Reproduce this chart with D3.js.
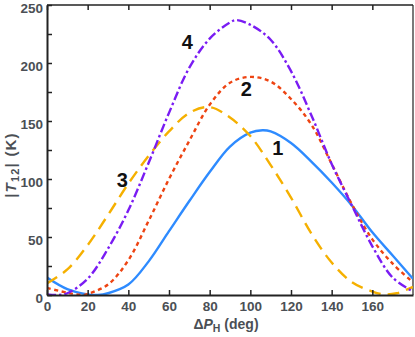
<!DOCTYPE html>
<html>
<head>
<meta charset="utf-8">
<script src="https://cdn.jsdelivr.net/npm/d3@7"></script>
<style>
  html, body { margin: 0; padding: 0; background: #fff; }
  svg { display: block; }
  text { font-family: "Liberation Sans", Arial, sans-serif; }
</style>
</head>
<body>
<svg id="chart" width="415" height="337"></svg>
<script>
// ---- data ----
const xTicks = [0, 20, 40, 60, 80, 100, 120, 140, 160];
const yTicks = [0, 50, 100, 150, 200, 250];
const yMinorTicks = [25, 75, 125, 175, 225];

const curve1X = [0, 10, 20, 25, 30, 40, 50, 60, 70, 80, 90, 100, 106, 110, 120, 130, 140, 150, 160, 170, 180];
const curve1Y = [15, 5, 0.5, 0, 1.5, 9, 29, 55, 81, 106, 128, 140, 142, 141, 131, 115, 97, 77, 54, 34, 14];

const curve2X = [0, 10, 17, 20, 30, 40, 50, 60, 70, 80, 90, 100, 110, 120, 130, 140, 150, 160, 170, 180];
const curve2Y = [6, 2, 0, 1, 9, 30, 64, 100, 133, 164, 183, 188, 184, 169, 147, 113, 78, 48, 27, 11];

const curve3X = [0, 10, 20, 30, 40, 50, 60, 70, 80, 90, 100, 110, 120, 130, 140, 150, 160, 166, 172, 180];
const curve3Y = [10, 22, 43, 69, 96, 120, 141, 157, 162, 153, 137, 112, 84, 53, 28, 11, 3, 0.5, 1.5, 7];

const curve4X = [0, 5, 10, 20, 30, 40, 50, 60, 70, 80, 90, 93, 100, 110, 120, 130, 140, 150, 160, 170, 180];
const curve4Y = [0.5, 0, 1.5, 14, 40, 73, 114, 157, 196, 221, 235, 237, 233, 220, 193, 155, 113, 77, 42, 15, 3];

const seriesNames = ["1", "2", "3", "4"];
const labelPos = [[113.5, 127], [98, 178], [37, 99], [69, 218]]; // in data units

// ---- layout ----
const svg = d3.select("#chart");
const m = { left: 47, right: 413, top: 5, bottom: 295 };
const x = d3.scaleLinear().domain([0, 180]).range([m.left, m.right]);
const y = d3.scaleLinear().domain([0, 250]).range([m.bottom, m.top]);

const axisColor = "#222";
const textColor = "#4b4f55";

svg.append("defs").append("clipPath").attr("id", "clip")
  .append("rect").attr("x", m.left).attr("y", m.top)
  .attr("width", m.right - m.left).attr("height", m.bottom - m.top);

// frame (top + right)
svg.append("line").attr("x1", m.left).attr("x2", m.right).attr("y1", m.top).attr("y2", m.top)
  .attr("stroke", axisColor).attr("stroke-width", 1.5);
svg.append("line").attr("x1", m.right).attr("x2", m.right).attr("y1", m.top).attr("y2", m.bottom)
  .attr("stroke", axisColor).attr("stroke-width", 1.2);

// series
const series = [
  { xs: curve1X, ys: curve1Y, color: "#2e8bff", dash: null },
  { xs: curve2X, ys: curve2Y, color: "#ee4412", dash: "4,3.5" },
  { xs: curve3X, ys: curve3Y, color: "#f5b000", dash: "12,7" },
  { xs: curve4X, ys: curve4Y, color: "#7a1cf3", dash: "9,3,2.5,3" }
];
const line = d3.line().x(d => x(d[0])).y(d => y(Math.max(0, d[1]))).curve(d3.curveCatmullRom.alpha(0.5));
const g = svg.append("g").attr("clip-path", "url(#clip)");
series.forEach(s => {
  const pts = s.xs.map((v, i) => [v, s.ys[i]]);
  g.append("path").datum(pts).attr("d", line)
    .attr("fill", "none").attr("stroke", s.color).attr("stroke-width", 2.4)
    .attr("stroke-dasharray", s.dash);
});

// axes
const xAxis = d3.axisBottom(x).tickValues(xTicks).tickSizeInner(-5).tickSizeOuter(0).tickPadding(6);
const gx = svg.append("g").attr("transform", `translate(0,${m.bottom})`).call(xAxis);
const xTop = d3.axisTop(x).tickValues(xTicks).tickSizeInner(-5).tickSizeOuter(0).tickFormat("");
const gxt = svg.append("g").attr("transform", `translate(0,${m.top})`).call(xTop);
gxt.select(".domain").remove();
const yAxis = d3.axisLeft(y).tickValues(yTicks).tickSizeInner(-5).tickSizeOuter(0).tickPadding(4);
const gy = svg.append("g").attr("transform", `translate(${m.left},0)`).call(yAxis);
const yMinor = d3.axisLeft(y).tickValues(yMinorTicks).tickSizeInner(-5).tickSizeOuter(0).tickFormat("");
const gym = svg.append("g").attr("transform", `translate(${m.left},0)`).call(yMinor);
gym.select(".domain").remove();

[gx, gy, gxt, gym].forEach(a => {
  a.selectAll(".domain").attr("stroke", axisColor).attr("stroke-width", 2);
  a.selectAll(".tick line").attr("stroke", axisColor).attr("stroke-width", 1.5);
  a.selectAll(".tick text").attr("fill", textColor).attr("font-size", 13.5).attr("font-weight", "bold")
    .attr("font-family", "Liberation Sans, Arial, sans-serif");
});
gy.selectAll(".tick text").attr("dy", "0.52em");

// series labels
seriesNames.forEach((n, i) => {
  svg.append("text").attr("x", x(labelPos[i][0])).attr("y", y(labelPos[i][1]))
    .attr("text-anchor", "middle").attr("dominant-baseline", "central")
    .attr("font-size", 20).attr("font-weight", "bold").attr("fill", "#111").text(n);
});

// axis titles
const xt = svg.append("text").attr("x", 226).attr("y", 329).attr("text-anchor", "middle")
  .attr("font-size", 14).attr("font-weight", "bold").attr("fill", textColor);
xt.append("tspan").text("Δ");
xt.append("tspan").attr("font-style", "italic").text("P");
xt.append("tspan").attr("font-size", 10.5).attr("dy", 3).text("H");
xt.append("tspan").attr("dy", -3).text(" (deg)");

const yt = svg.append("text").attr("transform", "translate(16,165) rotate(-90)").attr("text-anchor", "middle")
  .attr("font-size", 15).attr("font-weight", "bold").attr("fill", textColor)
  .attr("letter-spacing", 1.2);
yt.append("tspan").text("|");
yt.append("tspan").attr("font-style", "italic").text("T");
yt.append("tspan").attr("font-size", 11).attr("dy", 3).text("12");
yt.append("tspan").attr("dy", -3).text("| (K)");
</script>
</body>
</html>
